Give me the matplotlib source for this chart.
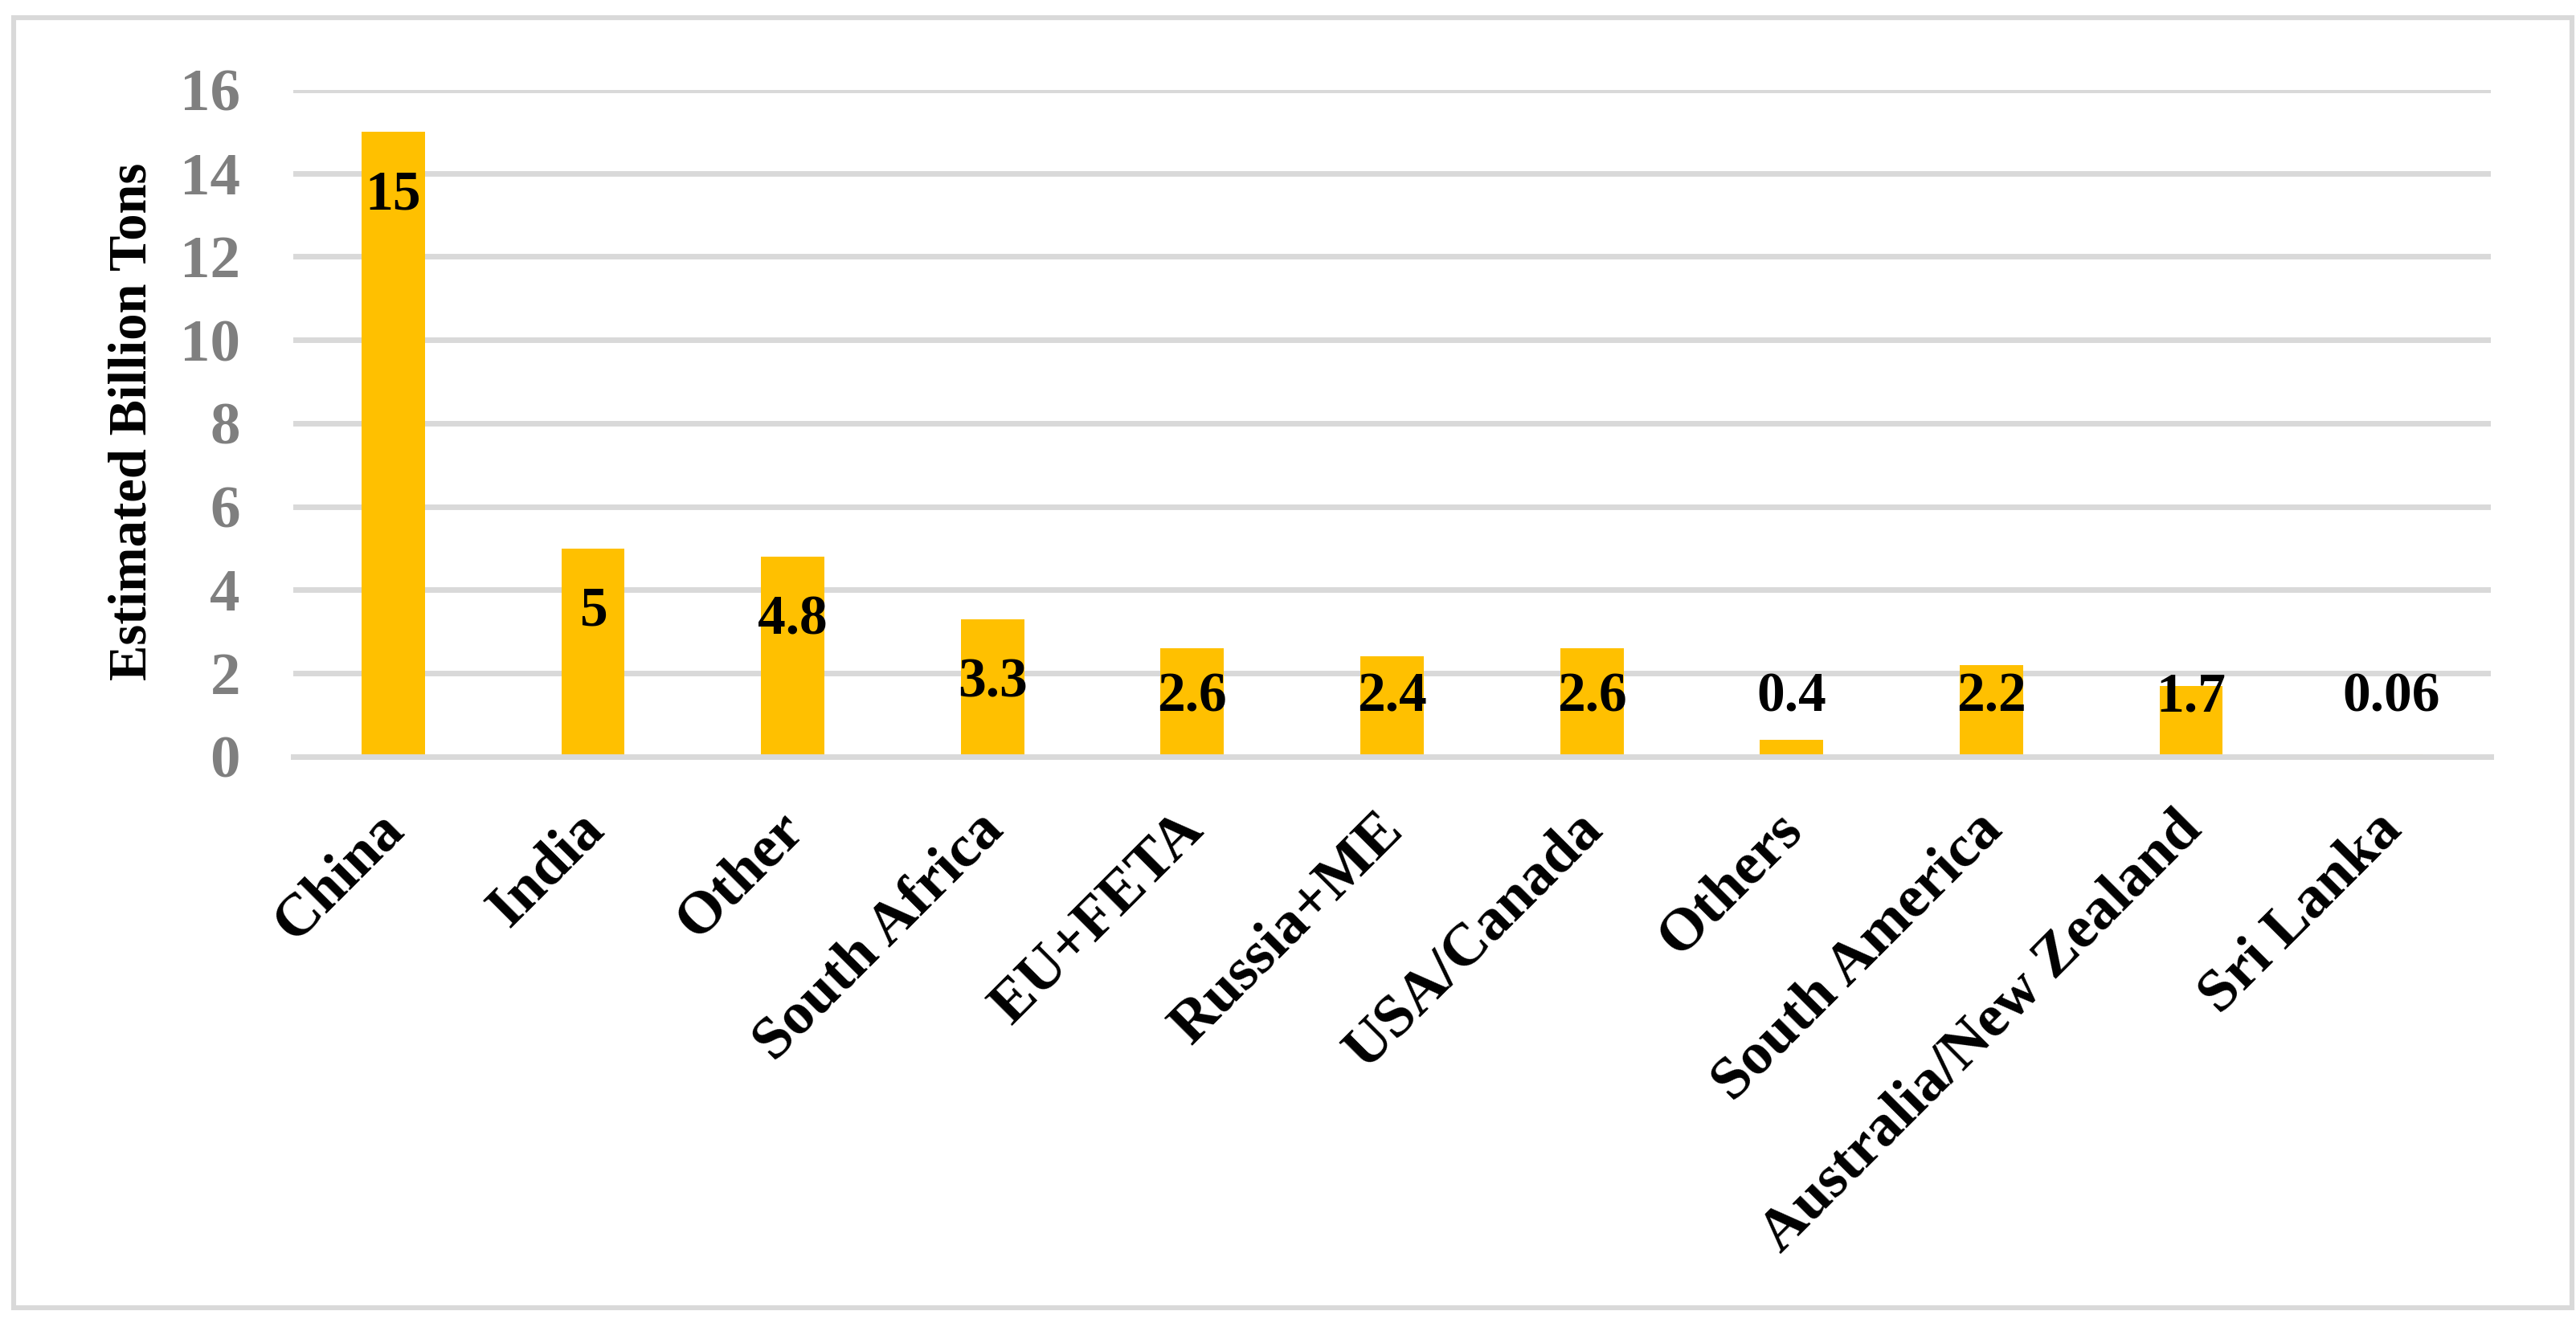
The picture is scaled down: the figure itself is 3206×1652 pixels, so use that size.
import matplotlib.pyplot as plt
import matplotlib.transforms as mtransforms
from matplotlib.patches import Rectangle

# data
regions = ["China", "India", "Other", "South Africa", "EU+FETA", "Russia+ME",
           "USA/Canada", "Others", "South America", "Australia/New Zealand",
           "Sri Lanka"]
tons = [15, 5, 4.8, 3.3, 2.6, 2.4, 2.6, 0.4, 2.2, 1.7, 0.06]
value_labels = ["15", "5", "4.8", "3.3", "2.6", "2.4", "2.6", "0.4", "2.2",
                "1.7", "0.06"]
y_ticks = [0, 2, 4, 6, 8, 10, 12, 14, 16]

plt.rcParams.update({
    'font.family': 'Liberation Serif',
    'font.weight': 'bold',
})

C_BAR = '#FFC000'
C_GRID = '#D9D9D9'

W, H, DPI = 3206, 1652, 200
fig = plt.figure(figsize=(W / DPI, H / DPI), dpi=DPI)
fig.patch.set_facecolor('white')

# outer chart border
fig.patches.append(Rectangle((17 / W, 1 - 1628 / H), (3201 - 17) / W, (1628 - 22) / H,
                             transform=fig.transFigure, fill=False,
                             edgecolor=C_GRID, linewidth=2.2))

ax = fig.add_axes([365 / W, 1 - 942 / H, (3100 - 365) / W, (942 - 112) / H])
for s in ax.spines.values():
    s.set_visible(False)

x = list(range(len(regions)))
ax.bar(x, tons, width=0.317, color=C_BAR, zorder=3)
ax.set_xlim(-0.5, len(regions) - 0.5)
ax.set_ylim(0, 16)
ax.set_yticks(y_ticks)
ax.yaxis.grid(True, color=C_GRID, linewidth=2.5, zorder=0)
ax.set_axisbelow(True)
# category axis line sits on top of the bar bases
ax.axhline(0, color=C_GRID, linewidth=2.5, zorder=5, clip_on=False)
ax.tick_params(axis='y', length=0, pad=23.8, labelsize=27, labelcolor='#7F7F7F')
ax.tick_params(axis='x', length=0, pad=29)

ax.set_xticks(x)
ax.set_xticklabels(regions, rotation=45, ha='right', va='center',
                   rotation_mode='anchor', fontsize=27)
shift = mtransforms.ScaledTranslation(3 / DPI, 0, fig.dpi_scale_trans)
for lab in ax.get_xticklabels():
    lab.set_transform(lab.get_transform() + shift)

# value labels, inside end but kept clear of the axis
for xi, v, txt in zip(x, tons, value_labels):
    ax.text(xi, max(v - 1.53, 1.42), txt, ha='center', va='center',
            fontsize=25, color='black', zorder=4)

fig.text(165 / W, 1 - 525 / H, 'Estimated Billion Tons', rotation=90,
         ha='center', va='center', fontsize=24)

fig.savefig('out.png', dpi=DPI, facecolor=fig.get_facecolor())
